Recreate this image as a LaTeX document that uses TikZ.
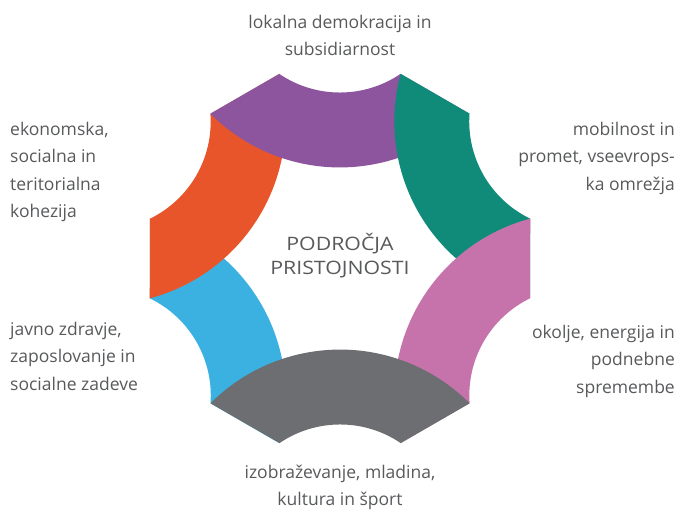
\documentclass[tikz,border=0pt]{standalone}
\usepackage{fontspec}
\setmainfont{Open Sans}
\newfontfamily\centrefont{Open Sans}[FakeStretch=1.15]
\definecolor{cpurple}{HTML}{8E559F}
\definecolor{cteal}{HTML}{108B79}
\definecolor{corange}{HTML}{E9552A}
\definecolor{cblue}{HTML}{3AB1E0}
\definecolor{cpink}{HTML}{C673AC}
\definecolor{cgray}{HTML}{6D6E71}
\definecolor{txtgray}{HTML}{58595B}
\begin{document}
\begin{tikzpicture}[x=1pt,y=1pt,
  lbl/.style={text=txtgray, inner sep=0pt, font=\fontsize{17.5}{27.3}\selectfont}]
\useasboundingbox (0,0) rectangle (681,515);
\coordinate (O) at (340,256.5);
\foreach \t/\c in {210/cblue,150/corange,90/cpurple,30/cteal,-30/cpink,270/cgray}{
  \fill[\c, shift={(O)}] (\t+18.2:194.3)
     arc[start angle=\t+145.87, end angle=\t+214.13, radius=108pt]
     -- (\t-41.8:194.3)
     arc[start angle=\t+225.08, end angle=\t+134.92, radius=183pt] -- cycle;
}
\node[lbl, anchor=north, align=center] (ltop) at (340,500) {lokalna demokracija in\\subsidiarnost};
\node[lbl, anchor=north west, align=left] (lleft) at (10,393) {ekonomska,\\socialna in\\teritorialna\\kohezija};
\node[lbl, anchor=north east, align=right] (lright) at (675,393) {mobilnost in\\promet, vseevrops-\\ka omrežja};
\node[lbl, anchor=north west, align=left] (lbleft) at (10,193) {javno zdravje,\\zaposlovanje in\\socialne zadeve};
\node[lbl, anchor=north east, align=right] (lbright) at (675,190) {okolje, energija in\\podnebne\\spremembe};
\node[lbl, anchor=north, align=center] (lbot) at (340,50) {izobraževanje, mladina,\\kultura in šport};
\node[lbl, anchor=base, align=center, font=\centrefont\fontsize{18.5}{24.5}\selectfont] (lcenter) at (340,240) {PODROČJA\\PRISTOJNOSTI};
\end{tikzpicture}
\end{document}
